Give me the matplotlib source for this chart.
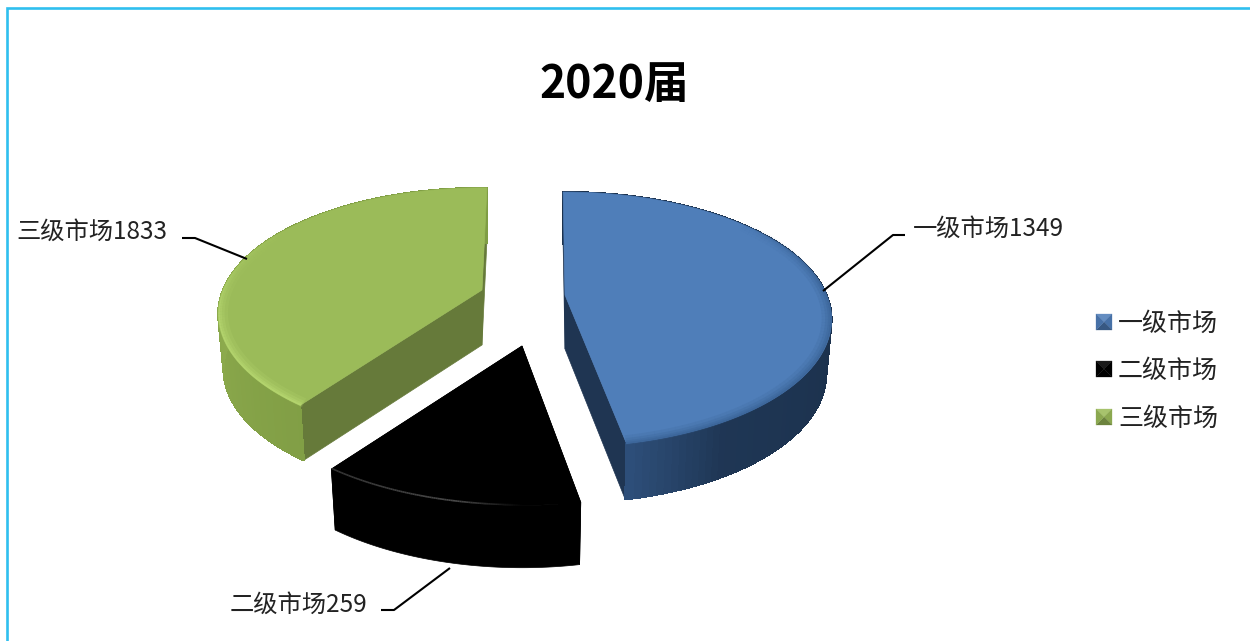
# 2020届 exploded 3D-look pie, drawn by hand since matplotlib has no 3D pie
import numpy as np
import matplotlib
matplotlib.use('Agg')
import matplotlib.pyplot as plt
from matplotlib.collections import LineCollection
from matplotlib.patches import Polygon

plt.rcParams['font.family'] = ['Noto Sans CJK SC', 'DejaVu Sans']

# data
categories = ['一级市场', '二级市场', '三级市场']
values = [1349, 259, 1833]
# start and sweep of every slice as drawn in the picture (the picture is not to scale with the values)
slice_start = [-0.5, 170, 216.5]
slice_deg = [169.5, 46, 144.8]
slice_radius = [1.01, 1.05, 1.0]
top_colors = ['#4F7EB9', '#000000', '#9BBB59']
cut_colors = ['#1F3552', '#000000', '#667A3A']
wall_dark = ['#1C324E', '#000000', '#7C9942']
wall_light = ['#2E4F7A', '#000000', '#8DAB4D']
rim_colors = ['#3A6396', '#4A4A4A', '#BBDC74']

# centre of the pie and how far each slice is pulled out, in pixels
cx, cy = 523, 297
pull = [(42, -2), (-1, 49), (-41, -7)]
# projection of the flat circle
A, B, k = 259, 121.5, 0.19
depth = [54, 55, 55]
slope = [2, 7, 0]

fig = plt.figure(figsize=(12.5, 6.41), dpi=100)
ax = fig.add_axes([0, 0, 1, 1])
ax.set_xlim(0, 1250)
ax.set_ylim(641, 0)
ax.axis('off')


def top_xy(theta, r=1.0):
    # theta in degrees, clockwise from the top
    t = np.radians(theta)
    u, v = r * np.sin(t), r * np.cos(t)
    d = 1 + k * v
    return A * u / d, -B * v / d


def low_xy(theta, r, i):
    x, y = top_xy(theta, r)
    v = r * np.cos(np.radians(theta))
    return x * 0.98, y + depth[i] - slope[i] * v


def mix(c1, c2, f):
    a = np.array(matplotlib.colors.to_rgb(c1))
    b = np.array(matplotlib.colors.to_rgb(c2))
    return tuple(a + (b - a) * f)


for i in [2, 0, 1]:
    a0, a1 = slice_start[i], slice_start[i] + slice_deg[i]
    R = slice_radius[i]
    ox, oy = cx + pull[i][0], cy + pull[i][1]
    thetas = np.linspace(a0, a1, 121)

    # the two cut faces
    for a in [a0, a1]:
        tx, ty = top_xy(a, R)
        lx, ly = low_xy(a, R, i)
        ax.add_patch(Polygon([(ox, oy), (ox + tx, oy + ty), (ox + lx, oy + ly), (ox, oy + depth[i])],
                             closed=True, fc=cut_colors[i], ec=cut_colors[i], lw=0.5, zorder=2 + i * 0.01))

    # outer wall: solid shape first, then shaded strips without antialiasing so no seams show
    tx, ty = top_xy(thetas, R)
    lx, ly = low_xy(thetas, R, i)
    ax.add_patch(Polygon(np.column_stack([np.r_[ox + tx, (ox + lx)[::-1]], np.r_[oy + ty, (oy + ly)[::-1]]]),
                         closed=True, fc=wall_dark[i], ec=wall_dark[i], lw=0.5, zorder=3 + i * 0.01))
    if i != 1:
        for t0, t1 in zip(thetas[:-1], thetas[1:]):
            tm = (t0 + t1) / 2
            if i == 0:
                f = np.interp(tm, [110, 150, a1], [0, 0.15, 1])
            else:
                f = np.interp(tm, [a0, 270, 310], [0.3, 1, 0.2])
            c = mix(wall_dark[i], wall_light[i], f)
            x0, y0 = top_xy(t0, R)
            x1, y1 = top_xy(t1, R)
            x2, y2 = low_xy(t1, R, i)
            x3, y3 = low_xy(t0, R, i)
            ax.add_patch(Polygon([(ox + x0, oy + y0), (ox + x1, oy + y1), (ox + x2, oy + y2), (ox + x3, oy + y3)],
                                 closed=True, fc=c, ec=c, lw=0.8, antialiased=False, zorder=3.1 + i * 0.01))

    # top face
    ax.add_patch(Polygon(np.column_stack([np.r_[ox, ox + tx], np.r_[oy, oy + ty]]),
                         closed=True, fc=top_colors[i], ec=top_colors[i], lw=0.5, zorder=4 + i * 0.01))

    # bevel along the rim, strongest where it faces the viewer
    for r, lw, al in [(0.982, 7, 0.18), (0.988, 4.5, 0.25), (0.993, 2.5, 0.35), (0.997, 1.2, 0.5)]:
        rx, ry = top_xy(thetas, R * r)
        pts = np.column_stack([ox + rx, oy + ry]).reshape(-1, 1, 2)
        segs = np.concatenate([pts[:-1], pts[1:]], axis=1)
        mid = (thetas[:-1] + thetas[1:]) / 2
        if i == 0:
            w = np.interp(mid, [50, 85, a1], [0, 1, 1])
        elif i == 1:
            w = np.interp(mid, [a0 + 10, a1 - 25, a1], [0, 1, 0.7]) * (lw < 2) * 2
        else:
            w = np.interp(mid, [a0, a0 + 40, 280, 310], [1, 0.9, 0.3, 0])
        cols = [(*matplotlib.colors.to_rgb(rim_colors[i]), min(al * q, 1)) for q in w]
        ax.add_collection(LineCollection(segs, colors=cols, linewidths=lw, zorder=5 + i * 0.01,
                                         capstyle='butt'))

# leader lines and data labels
leaders = [[(905, 235), (893, 235), (823, 291)],
           [(381, 610), (394, 610), (450, 568)],
           [(182, 238), (195, 238), (247, 259)]]
label_pos = [(913, 229), (230, 605), (16, 232)]
for i, name in enumerate(categories):
    xs, ys = zip(*leaders[i])
    ax.plot(xs, ys, color='black', lw=1.5, zorder=6, solid_capstyle='butt')
    ax.text(label_pos[i][0], label_pos[i][1], f'{name}{values[i]}', fontsize=17.5, color='#222222',
            ha='left', va='center', zorder=7)

# title
ax.text(614, 85, '2020届', fontsize=32, fontweight='bold', color='black', ha='center', va='center')

# legend
legend_y = [322, 369, 417]
for i, name in enumerate(categories):
    y = legend_y[i]
    x0, x1 = 1096, 1112
    y0, y1 = y - 8, y + 8
    mx, my = (x0 + x1) / 2, y
    base = top_colors[i]
    light = mix(base, '#FFFFFF', 0.12) if i != 1 else '#1A1A1A'
    dark = mix(base, '#000000', 0.3)
    shades = [light, mix(base, '#000000', 0.1), dark, mix(base, '#000000', 0.1)]
    corners = [(x0, y0), (x1, y0), (x1, y1), (x0, y1)]
    for j in range(4):
        ax.add_patch(Polygon([corners[j], corners[(j + 1) % 4], (mx, my)], closed=True,
                             fc=shades[j], ec=shades[j], lw=0.2, zorder=6))
    ax.text(1118, y + 2, name, fontsize=18, color='#222222', ha='left', va='center')

# outer border, left and top only
ax.plot([7, 7, 1250], [641, 8, 8], color='#2FBFEF', lw=1.9, solid_joinstyle='miter', clip_on=False)

plt.savefig('out.png', dpi=100)
